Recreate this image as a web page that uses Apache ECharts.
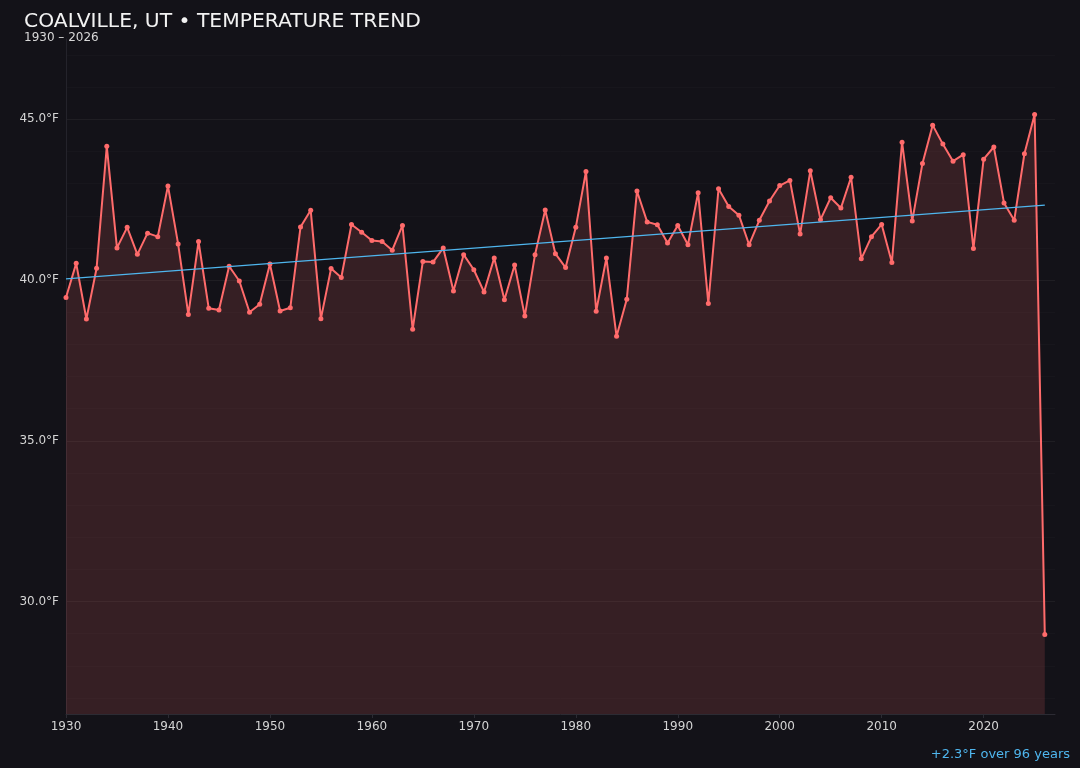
<!DOCTYPE html>
<html>
<head>
<meta charset="utf-8">
<script src="https://cdn.jsdelivr.net/npm/echarts@6/dist/echarts.min.js"></script>
<style>
html,body{margin:0;padding:0;background:#131218;}
#c{width:1080px;height:768px;}
</style>
</head>
<body>
<div id="c"></div>
<script>
var startYear = 1930;
var temps = [
  39.46, 40.52, 38.79, 40.37, 44.16, 41.00, 41.64, 40.80, 41.46, 41.35,
  42.93, 41.12, 38.93, 41.20, 39.12, 39.07, 40.43, 39.97, 39.00, 39.25,
  40.50, 39.04, 39.14, 41.65, 42.17, 38.80, 40.36, 40.08, 41.73, 41.49,
  41.23, 41.20, 40.93, 41.70, 38.47, 40.58, 40.56, 41.00, 39.66, 40.79,
  40.32, 39.63, 40.69, 39.39, 40.47, 38.88, 40.79, 42.18, 40.82, 40.39,
  41.64, 43.38, 39.03, 40.69, 38.25, 39.40, 42.77, 41.81, 41.72, 41.15,
  41.70, 41.10, 42.72, 39.27, 42.84, 42.29, 42.02, 41.10, 41.86, 42.46,
  42.94, 43.10, 41.43, 43.40, 41.88, 42.56, 42.24, 43.20, 40.66, 41.35,
  41.73, 40.55, 44.29, 41.84, 43.63, 44.82, 44.23, 43.70, 43.90, 40.98,
  43.76, 44.14, 42.40, 41.86, 43.93, 45.15, 28.97
];
var years = temps.map(function (_, i) { return startYear + i; });
var trendYears = [1930, 2026];
var trendValues = [40.04, 42.33];
var titleText = 'COALVILLE, UT \u2022 TEMPERATURE TREND';
var subtitleText = '1930 \u2013 2026';
var noteText = '+2.3\u00B0F over 96 years';

var lineColor = '#ff6b6b';
var trendColor = '#4fb6ee';
var font = 'DejaVu Sans';

var seriesData = years.map(function (y, i) { return [y, temps[i]]; });
var trendData = trendYears.map(function (y, i) { return [y, trendValues[i]]; });

var chart = echarts.init(document.getElementById('c'), null, {renderer: 'canvas'});
var minorC = 'rgba(255,255,255,0.018)';
var majorC = 'rgba(255,255,255,0.05)';
var none = 'rgba(0,0,0,0)';

chart.setOption({
  backgroundColor: '#131218',
  animation: false,
  textStyle: {fontFamily: font},
  title: [
    {text: titleText, left: 19, top: 7, textStyle: {color: '#f2f2f2', fontSize: 20.3, fontWeight: 'normal', fontFamily: font}},
    {text: subtitleText, left: 19, top: 27, textStyle: {color: '#d8d8d8', fontSize: 12, fontWeight: 'normal', fontFamily: font}},
    {text: noteText, right: 5, bottom: 2, textStyle: {color: trendColor, fontSize: 13, fontWeight: 'normal', fontFamily: font}}
  ],
  grid: {left: 66, right: 25, top: 39, bottom: 54, containLabel: false},
  xAxis: {
    type: 'value', min: 1930, max: 2027, interval: 10,
    axisLine: {show: true, lineStyle: {color: '#2c2b33', width: 1}},
    axisTick: {show: true, length: 4, lineStyle: {color: '#2c2b33'}},
    splitLine: {show: false},
    axisLabel: {
      color: '#d4d4d4', fontSize: 12, margin: 7, fontFamily: font,
      showMaxLabel: false,
      formatter: function (v) { return (Math.round(v) % 10 === 0) ? String(Math.round(v)) : ''; }
    }
  },
  yAxis: {
    type: 'value', min: 26.5, max: 47.5, interval: 0.5,
    axisLine: {show: true, lineStyle: {color: '#24232b', width: 1}},
    axisTick: {show: false},
    splitLine: {show: true, lineStyle: {width: 1, color: [none, minorC, none, minorC, none, minorC, none, majorC, none, minorC]}},
    axisLabel: {
      color: '#d4d4d4', fontSize: 12, margin: 7, fontFamily: font,
      formatter: function (v) {
        var r = Math.round(v * 100) / 100;
        return (Math.abs(r % 5) < 1e-6) ? r.toFixed(1) + '\u00B0F' : '';
      }
    }
  },
  series: [
    {
      type: 'line', data: seriesData, symbol: 'circle', symbolSize: 5,
      lineStyle: {color: lineColor, width: 2},
      itemStyle: {color: lineColor},
      areaStyle: {color: 'rgba(255,107,107,0.15)', opacity: 1, origin: 'start'},
      z: 3
    },
    {
      type: 'line', data: trendData, symbol: 'none',
      lineStyle: {color: trendColor, width: 1.3},
      z: 4, silent: true
    }
  ]
});
</script>
</body>
</html>
